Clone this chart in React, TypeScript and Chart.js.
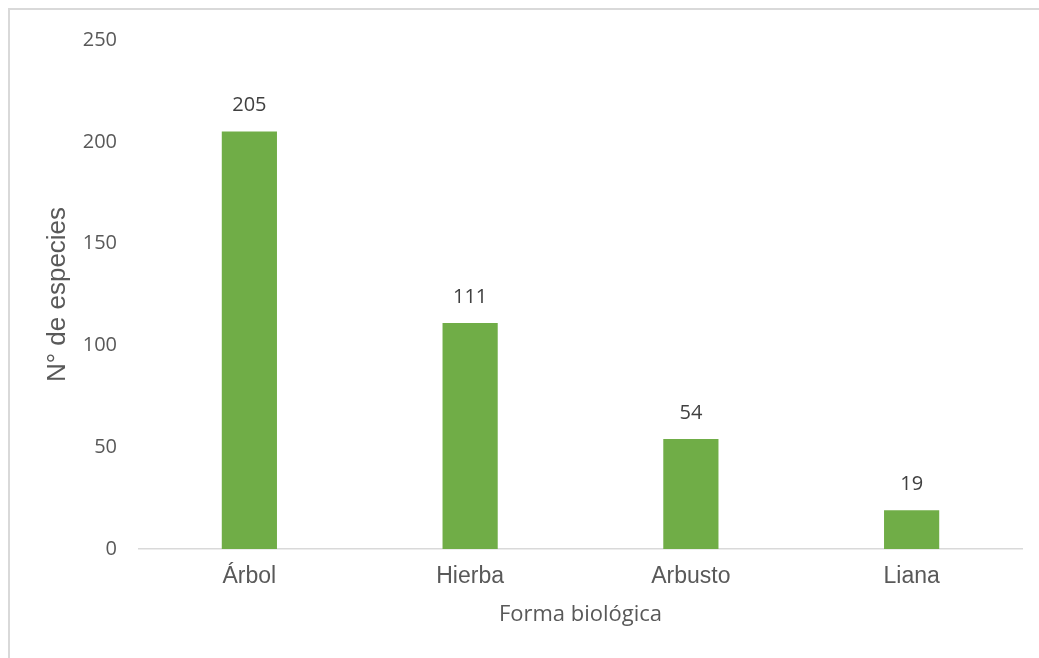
import React, { useEffect, useRef } from "react";
import { Chart, registerables } from "chart.js";

Chart.register(...registerables);

// Species count per growth form
const categories: string[] = ["Árbol", "Hierba", "Arbusto", "Liana"];
const speciesCounts: number[] = [205, 111, 54, 19];
const yTickStep = 50;
const yMax = 250;

const BAR_COLOR = "#70AD47";
const TEXT_COLOR = "#595959";
const LABEL_COLOR = "#404040";

const CANVAS_W = 1029;
const CANVAS_H = 648;

// Writes each bar's value just above it
const valueLabels = {
  id: "valueLabels",
  afterDatasetsDraw(chart: any) {
    const ctx = chart.ctx;
    const meta = chart.getDatasetMeta(0);
    const data = chart.data.datasets[0].data as number[];
    ctx.save();
    ctx.font = '20px "Open Sans", sans-serif';
    ctx.fillStyle = LABEL_COLOR;
    ctx.textAlign = "center";
    ctx.textBaseline = "middle";
    meta.data.forEach((bar: any, i: number) => {
      ctx.fillText(String(data[i]), bar.x, bar.y - 26);
    });
    ctx.restore();
  },
};

export default function App() {
  const canvasRef = useRef<HTMLCanvasElement | null>(null);

  useEffect(() => {
    if (!canvasRef.current) return;
    const chart = new Chart(canvasRef.current, {
      type: "bar",
      data: {
        labels: categories,
        datasets: [
          {
            label: "N° de especies",
            data: speciesCounts,
            backgroundColor: BAR_COLOR,
            borderWidth: 0,
            categoryPercentage: 1,
            barPercentage: 0.25,
          },
        ],
      },
      options: {
        responsive: false,
        animation: false,
        layout: { padding: { top: 30, right: 17, left: 0, bottom: 0 } },
        plugins: {
          legend: { display: false },
          tooltip: { enabled: false },
        },
        scales: {
          x: {
            grid: { display: false, drawTicks: false },
            border: { display: true, color: "#d9d9d9", width: 1.5 },
            ticks: {
              color: TEXT_COLOR,
              font: { family: '"Liberation Sans", Arial, sans-serif', size: 23 },
              padding: 14,
            },
            title: {
              display: true,
              text: "Forma biológica",
              color: TEXT_COLOR,
              font: { family: '"Open Sans", sans-serif', size: 22 },
              padding: { top: 0, bottom: 30 },
            },
            afterFit(scale: any) {
              scale.height = 109;
            },
          },
          y: {
            min: 0,
            max: yMax,
            grid: { display: false, drawTicks: false },
            border: { display: false },
            ticks: {
              stepSize: yTickStep,
              color: TEXT_COLOR,
              font: { family: '"Open Sans", sans-serif', size: 20 },
              padding: 22,
            },
            title: {
              display: true,
              text: "N° de especies",
              color: TEXT_COLOR,
              font: { family: '"Liberation Sans", Arial, sans-serif', size: 26 },
              padding: { top: 32, bottom: 0 },
            },
            afterFit(scale: any) {
              scale.width = 129;
              // the top edge of the plot is set by the layout padding alone
              scale.paddingTop = 0;
            },
          },
        },
      },
      plugins: [valueLabels],
    });
    return () => chart.destroy();
  }, []);

  // Frame with left and top edges only; it runs past the window on the other two sides
  return (
    <div
      style={{
        position: "fixed",
        left: 8,
        top: 8,
        borderLeft: "2px solid #d9d9d9",
        borderTop: "2px solid #d9d9d9",
        width: CANVAS_W + 40,
        height: CANVAS_H + 40,
        background: "#ffffff",
      }}
    >
      <canvas
        ref={canvasRef}
        width={CANVAS_W}
        height={CANVAS_H}
        style={{ display: "block", width: CANVAS_W, height: CANVAS_H }}
      />
    </div>
  );
}
